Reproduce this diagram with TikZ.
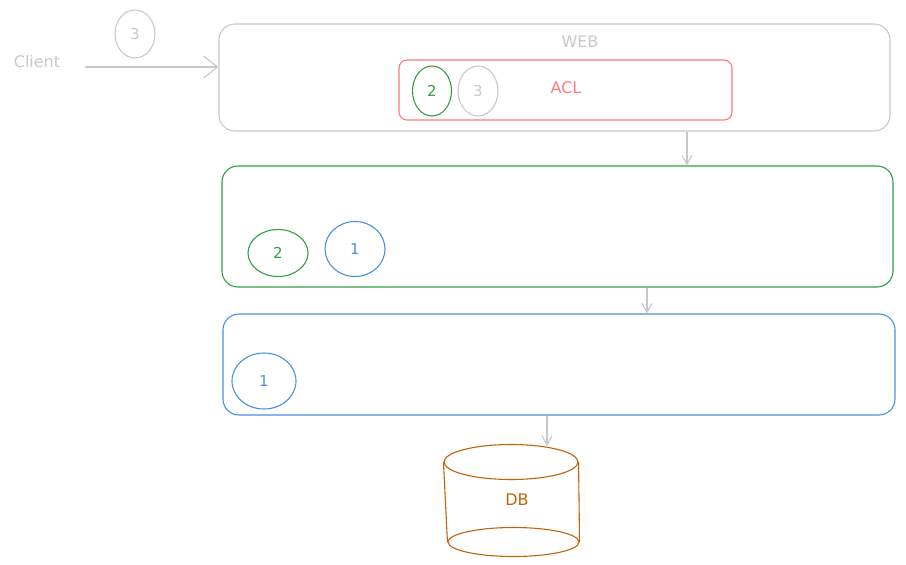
\documentclass[tikz,border=0pt]{standalone}
\usepackage{fontspec}
\setmainfont{DejaVu Sans}
\usetikzlibrary{shapes.geometric,arrows.meta}
\definecolor{sketchgray}{HTML}{C8C8C8}
\definecolor{aclred}{HTML}{FF7A7A}
\definecolor{svcgreen}{HTML}{2F9E44}
\definecolor{repoblue}{HTML}{4A90E2}
\definecolor{dborange}{HTML}{C2620A}
\begin{document}
\begin{tikzpicture}[x=1pt,y=-1pt,line width=1.1pt,
  txt/.style={inner sep=1pt,font=\fontsize{16}{18}\selectfont},
  layer/.style={draw,rectangle,rounded corners=16pt,inner sep=0pt},
  badge/.style={draw,ellipse,inner sep=0pt,font=\fontsize{15}{17}\selectfont},
  flow/.style={draw=sketchgray,-{Straight Barb[length=9pt,width=10pt]}},
  dbell/.style={draw=dborange,ellipse,inner sep=0pt}]
\useasboundingbox (0,0) rectangle (906,565);
% client side
\node[txt,text=sketchgray] (client) at (37,62) {Client};
\node[badge,sketchgray,minimum width=40pt,minimum height=48pt] (c3) at (135,34) {3};
\coordinate (cin) at (85,67);
% web layer
\node[layer,draw=sketchgray,minimum width=671pt,minimum height=107pt] (web) at (554.5,77.5) {};
\node[txt,text=sketchgray] (weblabel) at (580,42) {WEB};
\node[layer,draw=aclred,rounded corners=8pt,minimum width=333pt,minimum height=60pt] (acl) at (565.5,90) {};
\node[txt,text=aclred] (acllabel) at (566,88) {ACL};
\node[badge,svcgreen,minimum width=39pt,minimum height=50pt] (acl2) at (432,91) {2};
\node[badge,sketchgray,minimum width=40pt,minimum height=50pt] (acl3) at (478,91) {3};
% service layer
\node[layer,draw=svcgreen,minimum width=671pt,minimum height=121pt] (svc) at (557.5,226.5) {};
\node[badge,svcgreen,minimum width=60pt,minimum height=47pt] (svc2) at (278,253) {2};
\node[badge,repoblue,minimum width=60pt,minimum height=55pt] (svc1) at (355,249) {1};
% repository layer
\node[layer,draw=repoblue,minimum width=672pt,minimum height=101pt] (repo) at (559,364.5) {};
\node[badge,repoblue,minimum width=64pt,minimum height=56pt] (repo1) at (264,381) {1};
% database
\node[dbell,minimum width=134pt,minimum height=35pt] (dbtop) at (511,462) {};
\node[dbell,minimum width=131pt,minimum height=29pt] (dbbot) at (513.5,542) {};
\draw[dborange] (dbtop.west)--(dbbot.west);\draw[dborange] (dbtop.east)--(dbbot.east);
\node[txt,text=dborange] (db) at (517,500) {DB};
% connectors
\draw[flow,-{Straight Barb[length=14pt,width=22pt]}] (cin)--(cin -| web.west);
\draw[flow] (web.south -| 687,0)--(svc.north -| 687,0);
\draw[flow] (svc.south -| 647,0)--(repo.north -| 647,0);
\draw[flow] (repo.south -| 547,0)--(547,446);
\end{tikzpicture}
\end{document}
